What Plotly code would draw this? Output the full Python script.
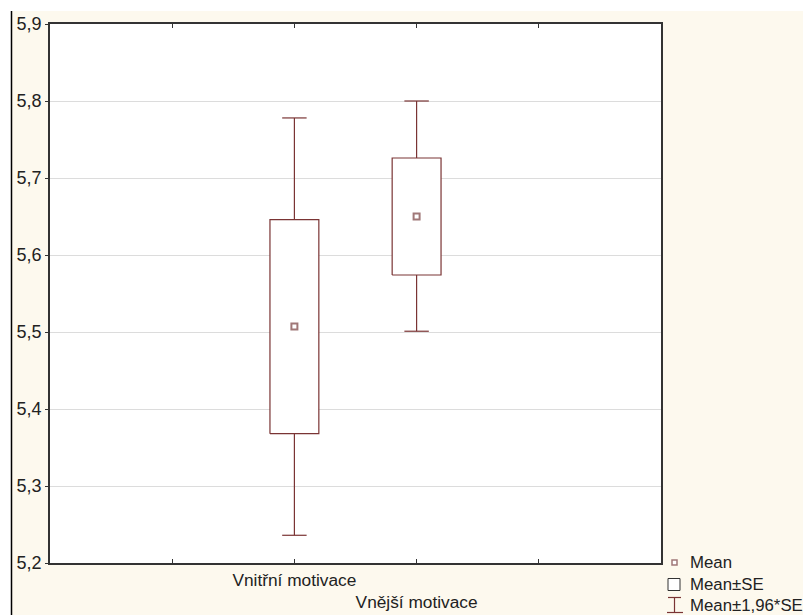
import plotly.graph_objects as go

# Data
categories = ["Vnitřní motivace", "Vnější motivace"]
cat_pos = [2, 3]
means = [5.507, 5.650]
se_low = [5.368, 5.574]
se_high = [5.646, 5.726]
ci_low = [5.236, 5.501]
ci_high = [5.778, 5.800]
x_tick_vals = [1, 2, 3, 4]
x_tick_text = ["", "Vnitřní motivace", "<br>Vnější motivace", ""]
y_ticks = [5.2, 5.3, 5.4, 5.5, 5.6, 5.7, 5.8, 5.9]
legend_labels = ["Mean", "Mean±SE", "Mean±1,96*SE"]

LINE = "#7a3434"
MEAN_C = "#a07878"
BOX_HW = 0.2
CAP_HW = 0.1
FONT = "Liberation Sans, Arial"

fig = go.Figure()

# Boxes (Mean ± SE)
for c, lo, hi in zip(cat_pos, se_low, se_high):
    fig.add_trace(go.Scatter(
        x=[c - BOX_HW, c + BOX_HW, c + BOX_HW, c - BOX_HW, c - BOX_HW],
        y=[lo, lo, hi, hi, lo], mode="lines", fill="toself",
        fillcolor="white", line=dict(color=LINE, width=1.2),
        showlegend=False, hoverinfo="skip"))

# Whiskers (Mean ± 1.96*SE)
for c, lo, hi, wlo, whi in zip(cat_pos, se_low, se_high, ci_low, ci_high):
    fig.add_trace(go.Scatter(
        x=[c, c, None, c - CAP_HW, c + CAP_HW, None,
           c, c, None, c - CAP_HW, c + CAP_HW],
        y=[hi, whi, None, whi, whi, None,
           lo, wlo, None, wlo, wlo],
        mode="lines", line=dict(color=LINE, width=1.2),
        showlegend=False, hoverinfo="skip"))

# Means
fig.add_trace(go.Scatter(
    x=cat_pos, y=means, mode="markers",
    marker=dict(symbol="square-open", size=6, color=MEAN_C,
                line=dict(width=2, color=MEAN_C)),
    showlegend=False))

# Page body has an 8px margin; work in screen px and convert
OFF = 8
W, H = 811 - OFF, 615 - OFF
P_L, P_R, P_T, P_B = 50, 661, 24, 563  # plot area in screen px
ml, mr, mt, mb = P_L - OFF, W - (P_R - OFF), P_T - OFF, H - (P_B - OFF)
pw, ph = P_R - P_L, P_B - P_T


def px2x(px):
    return (px - P_L) / pw


def px2y(py):
    return (P_B - py) / ph


shapes = []
# cream background with left black frame line
shapes.append(dict(type="rect", xref="paper", yref="paper",
                   x0=px2x(11), x1=px2x(830), y0=px2y(640), y1=px2y(11),
                   fillcolor="#fdf9ee", line=dict(width=0), layer="below"))
shapes.append(dict(type="line", xref="paper", yref="paper",
                   x0=px2x(11.5), x1=px2x(11.5), y0=px2y(640), y1=px2y(11),
                   line=dict(color="black", width=1.5)))
# plot area white
shapes.append(dict(type="rect", xref="paper", yref="paper",
                   x0=0, x1=1, y0=0, y1=1, fillcolor="white",
                   line=dict(width=0), layer="below"))

rows = [562.5, 584.5, 605]
sx = 674.5
# mean symbol
shapes.append(dict(type="rect", xref="paper", yref="paper",
                   x0=px2x(sx - 2.5), x1=px2x(sx + 2.5),
                   y0=px2y(rows[0] + 2.5), y1=px2y(rows[0] - 2.5),
                   line=dict(color=MEAN_C, width=1.5), fillcolor="white"))
# box symbol
shapes.append(dict(type="rect", xref="paper", yref="paper",
                   x0=px2x(668), x1=px2x(680),
                   y0=px2y(rows[1] + 6), y1=px2y(rows[1] - 6),
                   line=dict(color="#333333", width=1), fillcolor="white"))
# whisker symbol
for seg in [((668, rows[2] - 7.5), (681, rows[2] - 7.5)),
            ((674.5, rows[2] - 7.5), (674.5, rows[2] + 7.5)),
            ((667, rows[2] + 7.5), (683, rows[2] + 7.5))]:
    shapes.append(dict(type="line", xref="paper", yref="paper",
                       x0=px2x(seg[0][0]), y0=px2y(seg[0][1]),
                       x1=px2x(seg[1][0]), y1=px2y(seg[1][1]),
                       line=dict(color=LINE, width=1.2)))

annotations = []
for lab, r in zip(legend_labels, rows):
    annotations.append(dict(text=lab, xref="paper", yref="paper",
                            x=px2x(688), y=px2y(r), xanchor="left",
                            yanchor="middle", showarrow=False,
                            font=dict(size=16.8, color="#222222",
                                      family=FONT)))

fig.update_layout(
    width=W, height=H,
    margin=dict(l=ml, r=mr, t=mt, b=mb, pad=0, autoexpand=False),
    paper_bgcolor="white", plot_bgcolor="rgba(0,0,0,0)",
    separators=",.",
    font=dict(family=FONT, size=17.5, color="#222222"),
    shapes=shapes, annotations=annotations,
    showlegend=False,
)
fig.update_xaxes(range=[0, 5], tickvals=x_tick_vals, ticktext=x_tick_text,
                 ticks="inside", ticklen=4, tickcolor="#333333",
                 showline=True, linecolor="#333333", linewidth=1.5,
                 mirror="ticks", showgrid=False, zeroline=False,
                 tickangle=0, automargin=False,
                 tickfont=dict(size=17.3))
fig.update_yaxes(range=[5.2, 5.9], tickvals=y_ticks, tickformat=".1f",
                 ticks="outside", ticklen=3, tickcolor="#333333",
                 showline=True, linecolor="#333333", linewidth=1.5,
                 mirror=True, showgrid=True, gridcolor="#dcdcdc",
                 gridwidth=1, zeroline=False, automargin=False,
                 tickfont=dict(size=18))

fig.write_html("out.html")
